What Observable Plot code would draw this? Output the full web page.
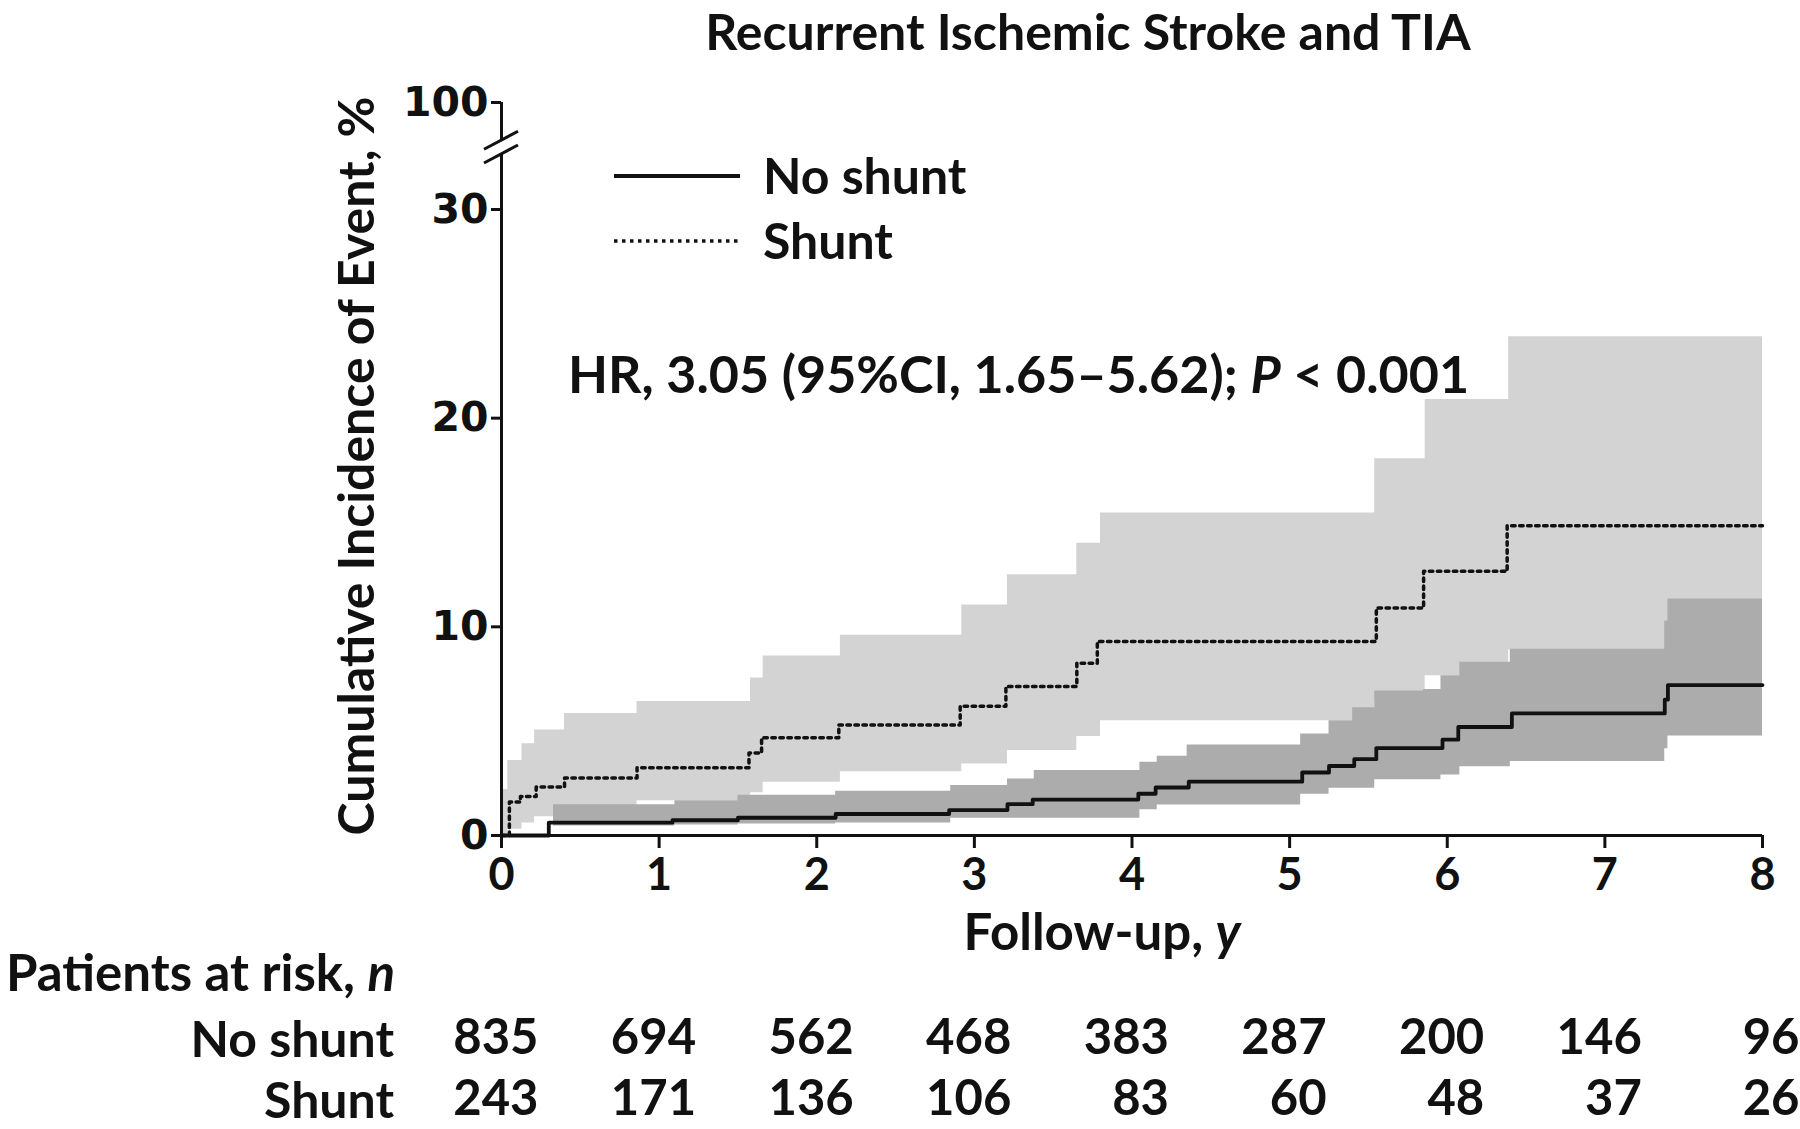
<!DOCTYPE html>
<html><head><meta charset="utf-8">
<script src="https://cdn.jsdelivr.net/npm/d3@7"></script>
<script src="https://cdn.jsdelivr.net/npm/@observablehq/plot@0.6"></script>
<style>body{margin:0;background:#fff} svg{display:block}</style>
</head><body><div id="chart"></div>
<script>
// ---- data ----
const years = [0, 1, 2, 3, 4, 5, 6, 7, 8];
const yTicks = [0, 10, 20, 30, 100];
const seriesNames = ["No shunt", "Shunt"];
const riskNoShunt = [835, 694, 562, 468, 383, 287, 200, 146, 96];
const riskShunt = [243, 171, 136, 106, 83, 60, 48, 37, 26];

// cumulative incidence (%), step changes
const noShuntTime  = [0, 0.30, 1.085, 1.50, 2.12, 2.84, 3.21, 3.37, 4.04, 4.15, 4.36, 5.08, 5.25, 5.41, 5.55, 5.97, 6.07, 6.41, 7.38, 7.40, 8.00];
const noShuntValue = [0, 0.62, 0.73, 0.85, 1.03, 1.22, 1.50, 1.72, 2.00, 2.30, 2.58, 3.02, 3.33, 3.66, 4.19, 4.59, 5.20, 5.85, 6.51, 7.21, 7.21];
const shuntTime  = [0, 0.05, 0.12, 0.22, 0.40, 0.86, 1.57, 1.65, 2.14, 2.91, 3.20, 3.65, 3.78, 5.55, 5.85, 6.38, 8.00];
const shuntValue = [0, 1.60, 1.87, 2.32, 2.76, 3.25, 3.95, 4.68, 5.30, 6.20, 7.14, 8.26, 9.30, 10.90, 12.66, 14.85, 14.85];

// 95% confidence bands
const shuntCiTime = [0, 0.04, 0.13, 0.21, 0.40, 0.86, 1.58, 1.66, 2.15, 2.92, 3.21, 3.65, 3.80, 5.54, 5.86, 6.39, 8.00];
const shuntCiLow  = [0, 0.30, 0.60, 0.90, 1.30, 1.67, 2.05, 2.55, 3.05, 3.43, 4.07, 4.75, 5.50, 6.50, 7.66, 8.90, 8.90];
const shuntCiHigh = [2.2, 3.60, 4.40, 5.05, 5.85, 6.42, 7.55, 8.60, 9.60, 11.05, 12.50, 14.00, 15.45, 18.05, 20.90, 23.90, 23.90];
const noShuntCiTime = [0.33, 1.10, 1.50, 2.12, 2.85, 3.21, 3.38, 4.05, 4.16, 4.35, 5.07, 5.25, 5.40, 5.54, 5.85, 5.96, 6.08, 6.40, 7.38, 7.40, 8.00];
const noShuntCiLow  = [0.45, 0.50, 0.55, 0.60, 0.83, 0.83, 0.83, 1.24, 1.46, 1.46, 1.98, 2.27, 2.27, 2.67, 2.67, 2.90, 3.29, 3.55, 4.16, 4.77, 4.77];
const noShuntCiHigh = [1.47, 1.67, 1.93, 2.12, 2.40, 2.71, 3.11, 3.51, 3.80, 4.34, 4.86, 5.50, 6.12, 6.92, 7.00, 7.66, 8.30, 8.92, 10.28, 11.33, 11.33];

const yBreak = [66, 75];

// ---- build ----
const noShunt = noShuntTime.map((t, i) => ({t, v: noShuntValue[i]}));
const shunt = shuntTime.map((t, i) => ({t, v: shuntValue[i]}));
const shuntCi = shuntCiTime.map((t, i) => ({t, lo: shuntCiLow[i], hi: shuntCiHigh[i]}));
const noShuntCi = noShuntCiTime.map((t, i) => ({t, lo: noShuntCiLow[i], hi: noShuntCiHigh[i]}));

const FONT = "Lato, 'Open Sans', sans-serif";
const INK = "#111";
const DOTS = "3.5 4.5";

const plot = Plot.plot({
  width: 1800, height: 1129,
  marginLeft: 501, marginRight: 38, marginTop: 102, marginBottom: 294,
  style: {fontFamily: FONT, background: "#fff", color: INK, overflow: "visible"},
  x: {domain: [0, 8]},
  y: {type: "linear", domain: [0, 30, 100], range: [835, 209, 102]},
  marks: [
    Plot.areaY(shuntCi, {x: "t", y1: "lo", y2: "hi", curve: "step-after", fill: "#d3d3d3"}),
    Plot.areaY(noShuntCi, {x: "t", y1: "lo", y2: "hi", curve: "step-after", fill: "#acacac"}),
    Plot.line(shunt, {x: "t", y: "v", curve: "step-after", stroke: INK, strokeWidth: 3.5, strokeDasharray: DOTS}),
    Plot.line(noShunt, {x: "t", y: "v", curve: "step-after", stroke: INK, strokeWidth: 3.8}),
    Plot.ruleY([0], {stroke: INK, strokeWidth: 3}),
    Plot.ruleX([0], {y1: 0, y2: yBreak[0], stroke: INK, strokeWidth: 3}),
    Plot.ruleX([0], {y1: yBreak[1], y2: 100, stroke: INK, strokeWidth: 3}),
    Plot.axisX({ticks: years, tickSize: 13, tickPadding: 10, fontSize: 45, fontWeight: 700, label: null, strokeWidth: 3}),
    Plot.axisY({ticks: yTicks, tickSize: 10, tickPadding: 3, fontSize: 41, fontWeight: "bold", fontFamily: "DejaVu Sans", label: null, strokeWidth: 3}),
    Plot.text(years, {x: d => d, text: (d, i) => riskNoShunt[i], frameAnchor: "bottom", dy: 218, dx: 37, textAnchor: "end", fontSize: 49, fontWeight: 700, fill: INK}),
    Plot.text(years, {x: d => d, text: (d, i) => riskShunt[i], frameAnchor: "bottom", dy: 279, dx: 37, textAnchor: "end", fontSize: 49, fontWeight: 700, fill: INK})
  ]
});

document.getElementById("chart").appendChild(plot);
const svg = d3.select(plot);
const xs = plot.scale("x"), ys = plot.scale("y");
const x0 = xs.apply(0);

// axis break slashes
yBreak.forEach(v => {
  const yy = ys.apply(v);
  svg.append("line").attr("x1", x0 - 17).attr("y1", yy + 9).attr("x2", x0 + 17).attr("y2", yy - 9)
    .attr("stroke", INK).attr("stroke-width", 3);
});

function addText(x, y, parts, opts = {}) {
  const t = svg.append("text").attr("x", x).attr("y", y).attr("dy", "0.35em")
    .attr("font-family", FONT).attr("font-size", opts.size || 48).attr("font-weight", opts.weight || 700)
    .attr("fill", INK).attr("text-anchor", opts.anchor || "start");
  if (opts.transform) t.attr("transform", opts.transform).attr("x", 0).attr("y", 0);
  parts.forEach(p => {
    const s = t.append("tspan").text(p.text ?? p);
    if (p.italic) s.attr("font-style", "italic");
  });
  return t;
}

addText(1088, 32, ["Recurrent Ischemic Stroke and TIA"], {anchor: "middle", size: 50});
addText(0, 0, ["Cumulative Incidence of Event, %"], {anchor: "middle", size: 50, transform: "translate(356,466) rotate(-90)"});
addText(1102, 932, ["Follow-up, ", {text: "y", italic: true}], {anchor: "middle", size: 51});
addText(6, 973, ["Patients at risk, ", {text: "n", italic: true}], {size: 51});
addText(394, 1039, [seriesNames[0]], {anchor: "end", size: 50});
addText(394, 1100, [seriesNames[1]], {anchor: "end", size: 50});
addText(568, 375, ["HR, 3.05 (95%CI, 1.65\u20135.62); ", {text: "P", italic: true}, " < 0.001"], {size: 52});

// legend
const legendY = [176, 241];
seriesNames.forEach((name, i) => {
  svg.append("line").attr("x1", 614).attr("x2", 740).attr("y1", legendY[i]).attr("y2", legendY[i])
    .attr("stroke", INK).attr("stroke-width", i === 0 ? 3.8 : 3.5).attr("stroke-dasharray", i === 0 ? null : DOTS);
  addText(763, legendY[i], [name], {size: 50});
});
</script></body></html>
